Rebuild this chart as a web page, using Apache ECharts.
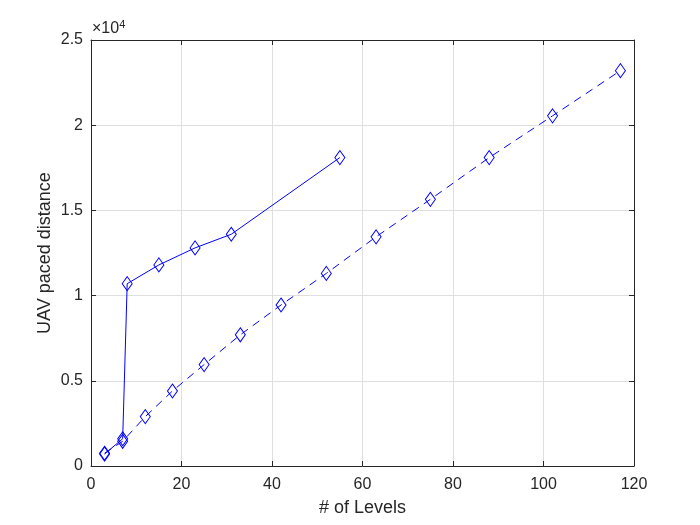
<!DOCTYPE html>
<html><head><meta charset="utf-8">
<script src="https://cdn.jsdelivr.net/npm/echarts@6/dist/echarts.min.js"></script>
<style>html,body{margin:0;padding:0;background:#fff}#c{width:700px;height:525px}</style>
</head><body><div id="c"></div>
<script>
var solidX = [3, 7, 8, 15, 23, 31, 55];
var solidY = [700, 1600, 10700, 11800, 12800, 13600, 18100];
var dashedX = [3, 7, 12, 18, 25, 33, 42, 52, 63, 75, 88, 102, 117];
var dashedY = [750, 1450, 2900, 4400, 5950, 7700, 9450, 11300, 13450, 15650, 18100, 20550, 23200];
var xTicks = [0, 20, 40, 60, 80, 100, 120];
var yTickLabels = ['0', '0.5', '1', '1.5', '2', '2.5'];

function pairs(xs, ys){ return xs.map(function(x,i){ return [x, ys[i]]; }); }
var font = 'Liberation Sans, Arial, sans-serif';
var txt = '#262626';
var chart = echarts.init(document.getElementById('c'));
var axisCommon = {
  axisLine: {show: true, onZero: false, lineStyle: {color: txt, width: 1}},
  axisTick: {show: true, inside: true, length: 5, lineStyle: {color: txt}},
  minorTick: {show: false}
};
chart.setOption({
  animation: false,
  grid: {left: 91, right: 66, top: 40, bottom: 59, containLabel: false},
  xAxis: [
    Object.assign({
      type: 'value', min: 0, max: 120, interval: 20, position: 'bottom',
      name: '# of Levels', nameLocation: 'middle', nameGap: 33, nameMoveOverlap: false,
      nameTextStyle: {color: txt, fontFamily: font, fontSize: 18},
      axisLabel: {color: txt, fontFamily: font, fontSize: 16, margin: 11,
        formatter: function(v){ return xTicks.indexOf(v) >= 0 ? String(v) : ''; }},
      splitLine: {show: true, lineStyle: {color: '#dfdfdf', width: 1}}
    }, axisCommon),
    Object.assign({
      type: 'value', min: 0, max: 120, interval: 20, position: 'top',
      axisLabel: {show: false}, splitLine: {show: false}
    }, axisCommon)
  ],
  yAxis: [
    Object.assign({
      type: 'value', min: 0, max: 25000, interval: 5000, position: 'left',
      name: 'UAV paced distance', nameLocation: 'middle', nameGap: 37, nameMoveOverlap: false,
      nameTextStyle: {color: txt, fontFamily: font, fontSize: 18},
      axisLabel: {color: txt, fontFamily: font, fontSize: 16, margin: 8,
        formatter: function(v){ return yTickLabels[Math.round(v/5000)]; }},
      splitLine: {show: true, lineStyle: {color: '#dfdfdf', width: 1}}
    }, axisCommon),
    Object.assign({
      type: 'value', min: 0, max: 25000, interval: 5000, position: 'right',
      axisLabel: {show: false}, splitLine: {show: false}
    }, axisCommon)
  ],
  graphic: [{
    type: 'text', left: 92, top: 19,
    style: {rich: {a: {fontSize: 16, fontFamily: font, fill: txt}, b: {fontSize: 11, fontFamily: font, fill: txt, verticalAlign: 'top', padding: [0,0,8,0]}},
      text: '{a|\u00d710}{b|4}'}
  }],
  series: [
    {type: 'line', data: pairs(solidX, solidY), symbol: 'diamond', symbolSize: [10, 14],
     lineStyle: {color: '#0000ff', width: 1, type: 'solid'},
     itemStyle: {color: 'rgba(0,0,0,0)', borderColor: '#0000ff', borderWidth: 1}, z: 3},
    {type: 'line', data: pairs(dashedX, dashedY), symbol: 'diamond', symbolSize: [10, 14],
     lineStyle: {color: '#0000ff', width: 1, type: [8, 6]},
     itemStyle: {color: 'rgba(0,0,0,0)', borderColor: '#0000ff', borderWidth: 1}, z: 3}
  ]
});
</script></body></html>
